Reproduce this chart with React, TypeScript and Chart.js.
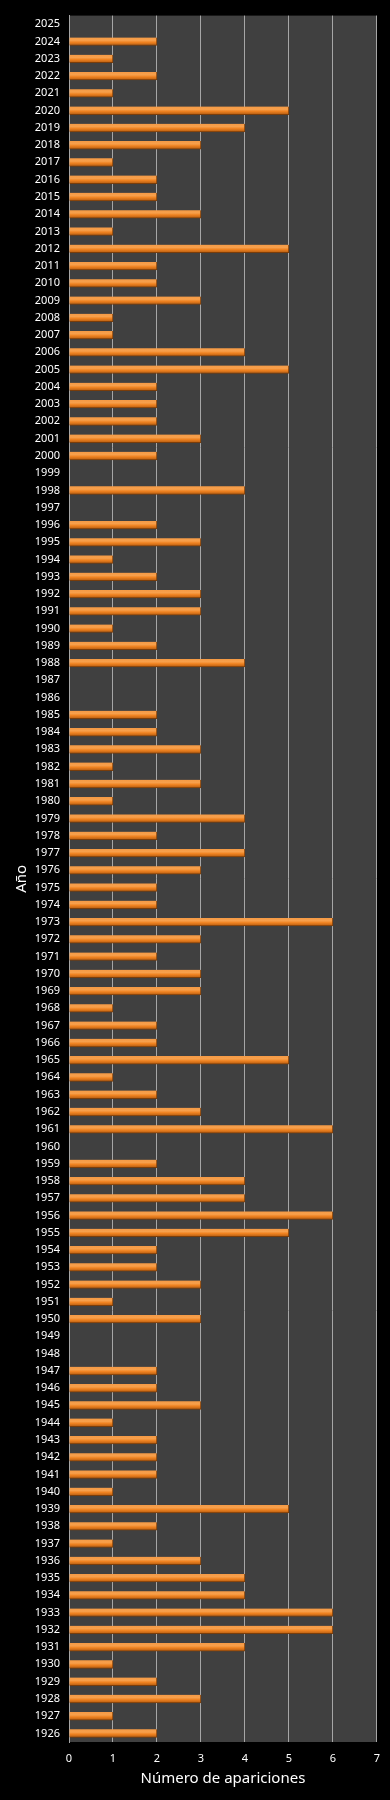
import React, { useEffect, useRef } from "react";
import { Chart, registerables } from "chart.js";

Chart.register(...registerables);

const years: string[] = [
  "2025", "2024", "2023", "2022", "2021", "2020", "2019", "2018", "2017", "2016",
  "2015", "2014", "2013", "2012", "2011", "2010", "2009", "2008", "2007", "2006",
  "2005", "2004", "2003", "2002", "2001", "2000", "1999", "1998", "1997", "1996",
  "1995", "1994", "1993", "1992", "1991", "1990", "1989", "1988", "1987", "1986",
  "1985", "1984", "1983", "1982", "1981", "1980", "1979", "1978", "1977", "1976",
  "1975", "1974", "1973", "1972", "1971", "1970", "1969", "1968", "1967", "1966",
  "1965", "1964", "1963", "1962", "1961", "1960", "1959", "1958", "1957", "1956",
  "1955", "1954", "1953", "1952", "1951", "1950", "1949", "1948", "1947", "1946",
  "1945", "1944", "1943", "1942", "1941", "1940", "1939", "1938", "1937", "1936",
  "1935", "1934", "1933", "1932", "1931", "1930", "1929", "1928", "1927", "1926",
];

const appearances: number[] = [
  0, 2, 1, 2, 1, 5, 4, 3, 1, 2,
  2, 3, 1, 5, 2, 2, 3, 1, 1, 4,
  5, 2, 2, 2, 3, 2, 0, 4, 0, 2,
  3, 1, 2, 3, 3, 1, 2, 4, 0, 0,
  2, 2, 3, 1, 3, 1, 4, 2, 4, 3,
  2, 2, 6, 3, 2, 3, 3, 1, 2, 2,
  5, 1, 2, 3, 6, 0, 2, 4, 4, 6,
  5, 2, 2, 3, 1, 3, 0, 0, 2, 2,
  3, 1, 2, 2, 2, 1, 5, 2, 1, 3,
  4, 4, 6, 6, 4, 1, 2, 3, 1, 2,
];

const xTicks: number[] = [0, 1, 2, 3, 4, 5, 6, 7];

const xTitle = "Número de apariciones";
const yTitle = "Año";

const FONT = "'Noto Sans', 'Open Sans', sans-serif";

export default function App() {
  const canvasRef = useRef<HTMLCanvasElement | null>(null);

  useEffect(() => {
    document.body.style.margin = "0";
    document.body.style.background = "#000000";
    const canvas = canvasRef.current;
    if (!canvas) return;

    const plotBg = {
      id: "plotBg",
      beforeDraw(chart: any) {
        const { ctx, chartArea } = chart;
        ctx.save();
        ctx.fillStyle = "#000000";
        ctx.fillRect(0, 0, chart.width, chart.height);
        ctx.fillStyle = "#404040";
        ctx.fillRect(chartArea.left, chartArea.top, chartArea.right - chartArea.left, chartArea.bottom - chartArea.top);
        ctx.restore();
      },
    };

    const barFill = (c: any) => {
      const chart = c.chart;
      const yScale = chart.scales && chart.scales.y;
      if (!yScale || c.dataIndex === undefined) return "#f08624";
      const y = yScale.getPixelForValue(c.dataIndex);
      if (!Number.isFinite(y)) return "#f08624";
      const g = chart.ctx.createLinearGradient(0, y - 4, 0, y + 4);
      g.addColorStop(0, "#f59a45");
      g.addColorStop(0.35, "#f7a04c");
      g.addColorStop(0.6, "#ef8220");
      g.addColorStop(1, "#b35c12");
      return g;
    };

    const chart = new Chart(canvas, {
      type: "bar",
      data: {
        labels: years,
        datasets: [
          {
            data: appearances,
            backgroundColor: barFill as any,
            borderColor: "#7a3d0a",
            borderWidth: { top: 0, right: 1, bottom: 1, left: 0 } as any,
            borderSkipped: "start",
            barThickness: 8,
          },
        ],
      },
      options: {
        indexAxis: "y",
        responsive: false,
        animation: false,
        devicePixelRatio: 1,
        layout: { padding: { top: 14, right: 12, left: 0, bottom: 0 } },
        plugins: {
          legend: { display: false },
          tooltip: { enabled: false },
        },
        scales: {
          x: {
            type: "linear",
            min: 0,
            max: 7,
            afterBuildTicks: (scale: any) => {
              scale.ticks = xTicks.map((v) => ({ value: v }));
            },
            afterFit: (scale: any) => {
              scale.height = 58;
            },
            grid: {
              color: "#a6a6a6",
              lineWidth: 1,
              drawTicks: false,
            },
            border: { display: false },
            ticks: {
              color: "#ffffff",
              font: { family: FONT, size: 11 },
              padding: 10,
              stepSize: 1,
            },
            title: {
              display: true,
              text: xTitle,
              color: "#ffffff",
              font: { family: FONT, size: 15 },
              padding: { top: 0, bottom: 12 },
            },
          },
          y: {
            type: "category",
            afterFit: (scale: any) => {
              scale.width = 69;
            },
            grid: { display: false, drawTicks: false },
            border: { display: true, color: "#a6a6a6", width: 1 },
            ticks: {
              color: "#ffffff",
              font: { family: FONT, size: 11 },
              padding: 9,
              autoSkip: false,
            },
            title: {
              display: true,
              text: yTitle,
              color: "#ffffff",
              font: { family: FONT, size: 15 },
              padding: { top: 13, bottom: 0 },
            },
          },
        },
      },
      plugins: [plotBg],
    });

    return () => {
      chart.destroy();
    };
  }, []);

  return (
    <div style={{ position: "absolute", left: 0, top: 0, width: 390, height: 1800, background: "#000" }}>
      <canvas ref={canvasRef} width={390} height={1800} style={{ display: "block", width: 390, height: 1800 }} />
    </div>
  );
}
